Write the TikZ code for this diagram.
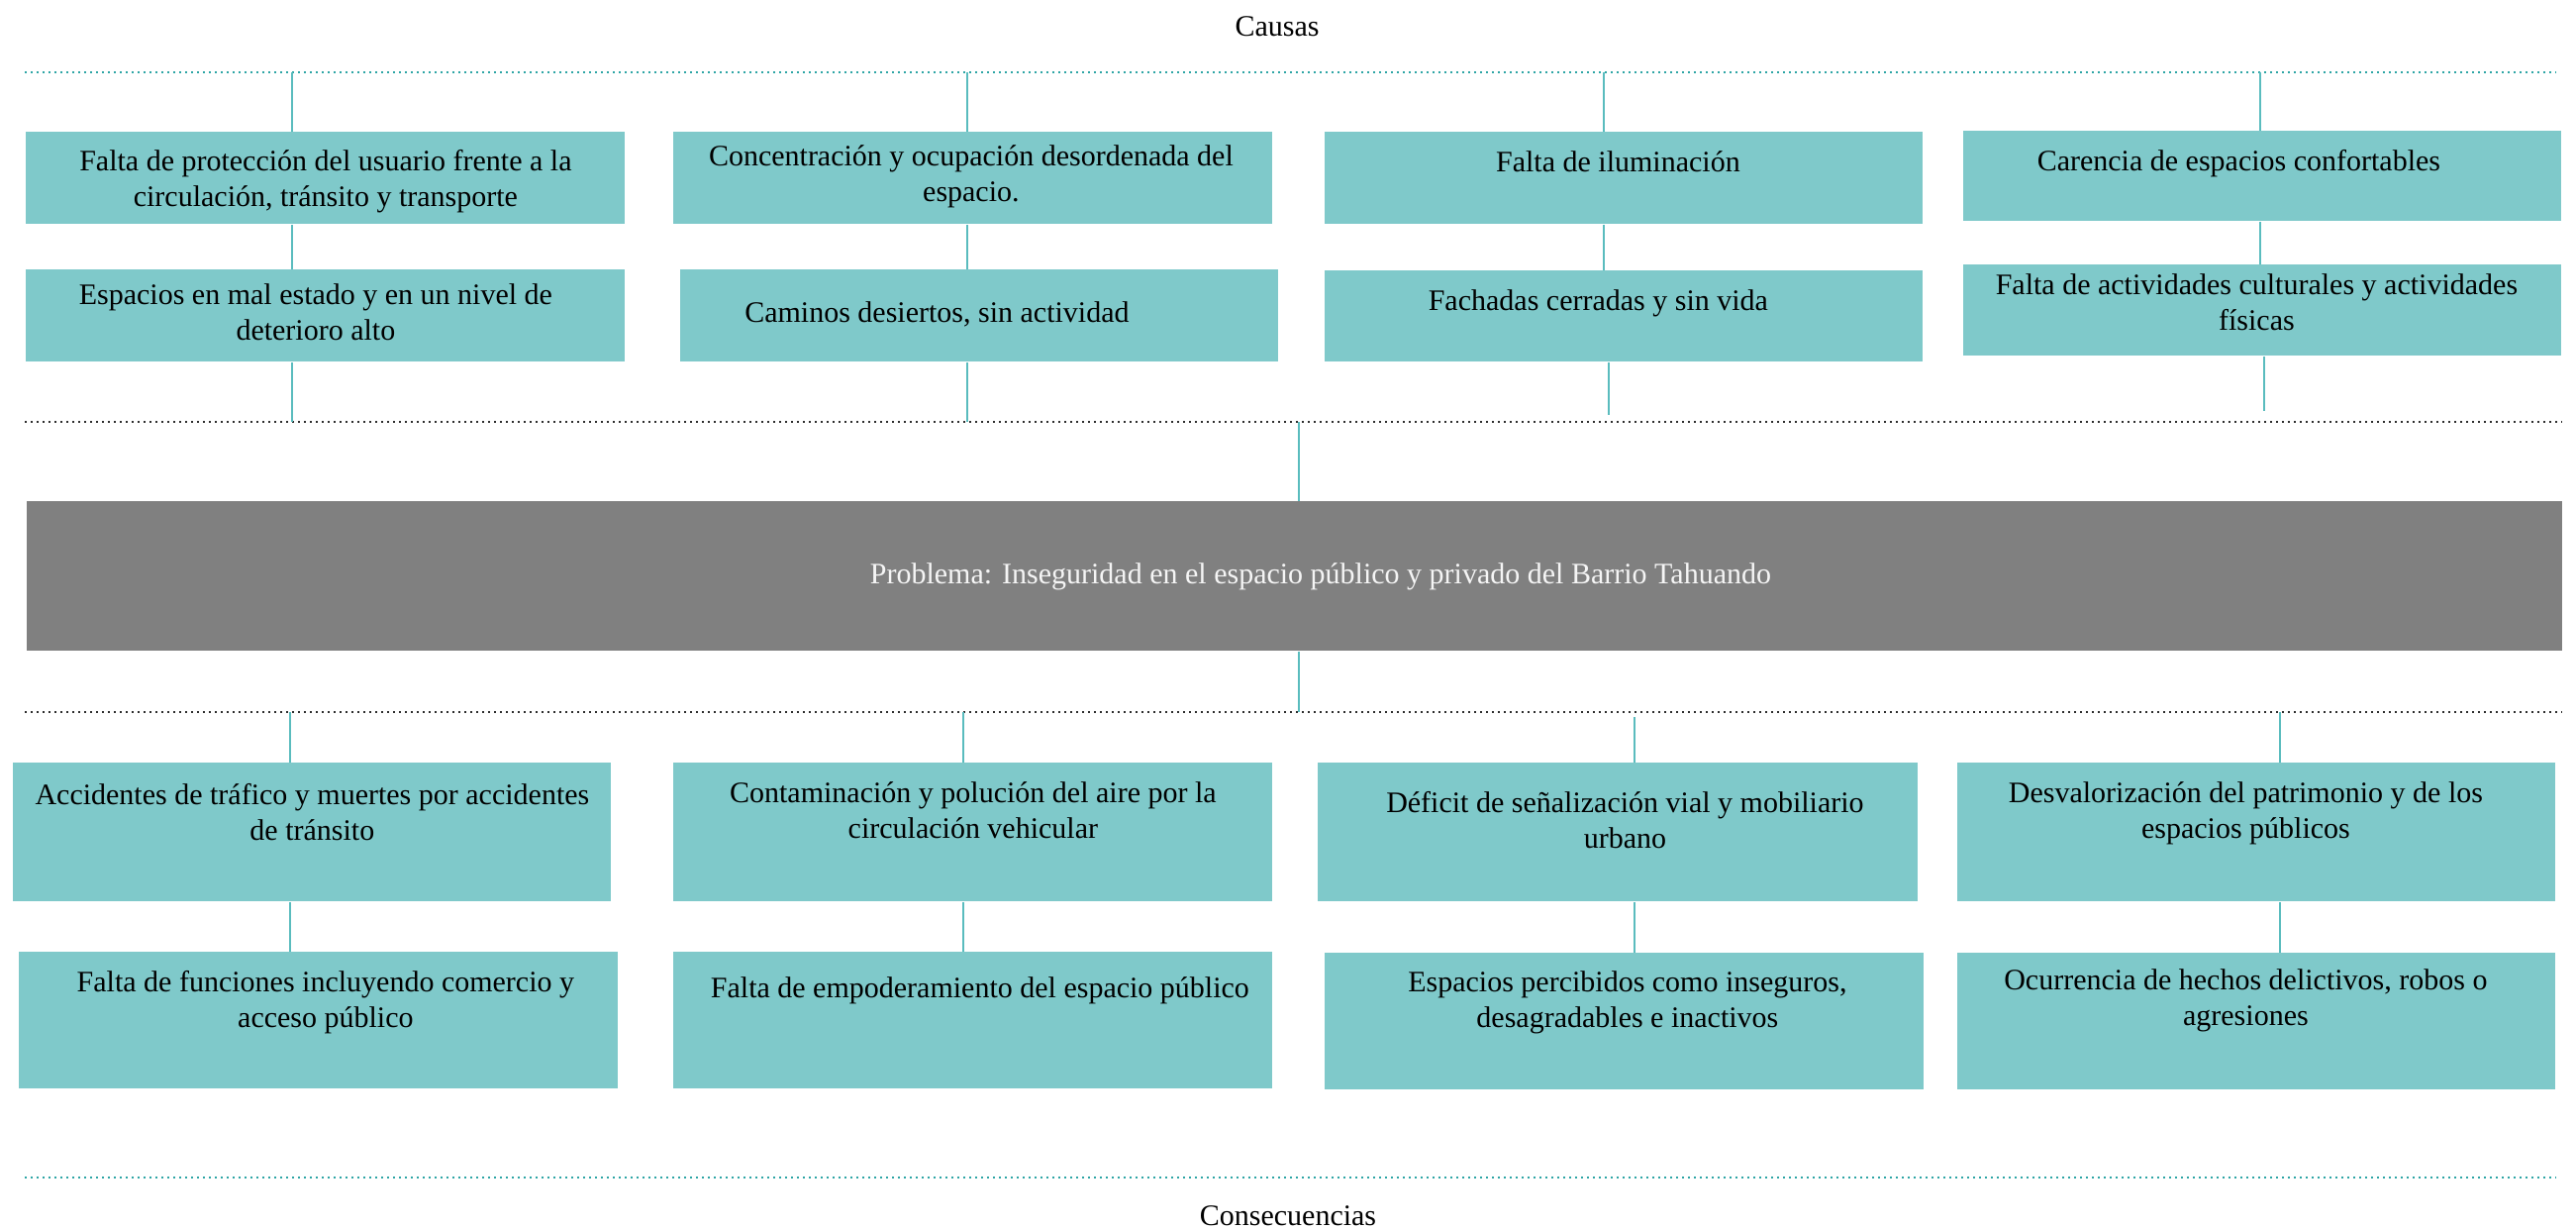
\documentclass[tikz,border=0pt]{standalone}
\usepackage{fontspec}
\setmainfont{Liberation Serif}
\usetikzlibrary{calc}
\definecolor{boxteal}{RGB}{127,201,202}
\definecolor{lineteal}{RGB}{90,188,190}
\definecolor{dotteal}{RGB}{45,165,165}
\definecolor{probgray}{RGB}{128,128,128}
\definecolor{dotblack}{RGB}{45,45,45}
\definecolor{probtext}{RGB}{245,245,245}
\newcommand\bxfont{\fontsize{15}{18}\selectfont}
\begin{document}
\begin{tikzpicture}[x=0.5pt,y=-0.5pt,
  cb/.style={fill=boxteal, draw=none, inner sep=0pt, anchor=north west},
  tx/.style={font=\bxfont, align=center, inner sep=0pt, anchor=north, yshift=12.6pt, text=black},
  conn/.style={draw=lineteal, line width=1pt},
  tdot/.style={draw=dotteal, line width=1.3pt, dash pattern=on 1.2pt off 1.8pt},
  kdot/.style={draw=dotblack, line width=1.3pt, dash pattern=on 1.2pt off 1.8pt},
  captxt/.style={font=\bxfont, inner sep=0pt, anchor=center}]
\useasboundingbox (0,0) rectangle (2602,1242);

% horizontal lines
\coordinate (tlL) at (25,73);   \coordinate (tlR) at (2582,73);
\coordinate (k1L) at (25,426);  \coordinate (k1R) at (2588,426);
\coordinate (k2L) at (25,719);  \coordinate (k2R) at (2588,719);
\coordinate (blL) at (25,1189); \coordinate (blR) at (2582,1189);
\draw[tdot] (tlL) -- (tlR);
\draw[kdot] (k1L) -- (k1R);
\draw[kdot] (k2L) -- (k2R);
\draw[tdot] (blL) -- (blR);

% captions
\node[captxt] (causas) at (1290,27) {Causas};
\node[captxt] (consec) at (1301,1228) {Consecuencias};

% top boxes
\node[cb, minimum width=302.5pt, minimum height=46.5pt] (A1) at (26,133) {};
\node[cb, minimum width=302.5pt, minimum height=46.5pt] (B1) at (680,133) {};
\node[cb, minimum width=302pt, minimum height=46.5pt] (C1) at (1338,133) {};
\node[cb, minimum width=302pt, minimum height=45.5pt] (D1) at (1983,132) {};
\node[cb, minimum width=302.5pt, minimum height=46.5pt] (A2) at (26,272) {};
\node[cb, minimum width=302pt, minimum height=46.5pt] (B2) at (687,272) {};
\node[cb, minimum width=302pt, minimum height=46pt] (C2) at (1338,273) {};
\node[cb, minimum width=302pt, minimum height=46pt] (D2) at (1983,267) {};

% problem
\node[cb, fill=probgray, minimum width=1280.5pt, minimum height=75.5pt] (P) at (27,506) {};

% bottom boxes
\node[cb, minimum width=302pt, minimum height=70pt] (E1) at (13,770) {};
\node[cb, minimum width=302.5pt, minimum height=70pt] (F1) at (680,770) {};
\node[cb, minimum width=303pt, minimum height=70pt] (G1) at (1331,770) {};
\node[cb, minimum width=302pt, minimum height=70pt] (H1) at (1977,770) {};
\node[cb, minimum width=302.5pt, minimum height=69pt] (E2) at (19,961) {};
\node[cb, minimum width=302.5pt, minimum height=69pt] (F2) at (680,961) {};
\node[cb, minimum width=302.5pt, minimum height=69pt] (G2) at (1338,962) {};
\node[cb, minimum width=302pt, minimum height=69pt] (H2) at (1977,962) {};

% texts
\node[tx] (A1t) at ($(A1.north)+(0,39)$) {\strut Falta de protección del usuario frente a la\\circulación, tránsito y transporte};
\node[tx] (A2t) at ($(A2.north)+(-10,35)$) {\strut Espacios en mal estado y en un nivel de\\deterioro alto};
\node[tx] (B1t) at ($(B1.north)+(-2,34)$) {\strut Concentración y ocupación desordenada del\\espacio.};
\node[tx] (B2t) at ($(B2.north)+(-43,53)$) {\strut Caminos desiertos, sin actividad};
\node[tx] (C1t) at ($(C1.north)+(-6,40)$) {\strut Falta de iluminación};
\node[tx] (C2t) at ($(C2.north)+(-26,40)$) {\strut Fachadas cerradas y sin vida};
\node[tx] (D1t) at ($(D1.north)+(-24,40)$) {\strut Carencia de espacios confortables};
\node[tx] (D2t) at ($(D2.north)+(-6,30)$) {\strut Falta de actividades culturales y actividades\\físicas};

\node[font=\bxfont, text=probtext, inner sep=0pt] (Pt) at ($(P.center)+(26,0)$) {Problema: Inseguridad en el espacio público y privado del Barrio Tahuando};

\node[tx] (E1t) at ($(E1.north)+(0,42)$) {\strut Accidentes de tráfico y muertes por accidentes\\de tránsito};
\node[tx] (F1t) at ($(F1.north)+(0,40)$) {\strut Contaminación y polución del aire por la\\circulación vehicular};
\node[tx] (G1t) at ($(G1.north)+(7,50)$) {\strut Déficit de señalización vial y mobiliario\\urbano};
\node[tx] (H1t) at ($(H1.north)+(-11,40)$) {\strut Desvalorización del patrimonio y de los\\espacios públicos};
\node[tx] (E2t) at ($(E2.north)+(7,40)$) {\strut Falta de funciones incluyendo comercio y\\acceso público};
\node[tx] (F2t) at ($(F2.north)+(7,46)$) {\strut Falta de empoderamiento del espacio público};
\node[tx] (G2t) at ($(G2.north)+(3,39)$) {\strut Espacios percibidos como inseguros,\\desagradables e inactivos};
\node[tx] (H2t) at ($(H2.north)+(-11,37)$) {\strut Ocurrencia de hechos delictivos, robos o\\agresiones};

% connector columns
\coordinate (xa) at (295,0);
\coordinate (xb) at (977,0);
\coordinate (xc) at (1620,0);
\coordinate (xcc) at (1625,0);
\coordinate (xd) at (2283,0);
\coordinate (xdd) at (2287,0);
\coordinate (xm) at (1312,0);
\coordinate (xe) at (293,0);
\coordinate (xf) at (973,0);
\coordinate (xg) at (1651,0);
\coordinate (xh) at (2303,0);

% top connectors
\draw[conn] (xa |- tlL) -- (xa |- A1.north);
\draw[conn] (xa |- A1.south) -- (xa |- A2.north);
\draw[conn] (xa |- A2.south) -- (xa |- k1L);
\draw[conn] (xb |- tlL) -- (xb |- B1.north);
\draw[conn] (xb |- B1.south) -- (xb |- B2.north);
\draw[conn] (xb |- B2.south) -- (xb |- k1L);
\draw[conn] (xc |- tlL) -- (xc |- C1.north);
\draw[conn] (xc |- C1.south) -- (xc |- C2.north);
\draw[conn] (xcc |- C2.south) -- ++(0,53);
\draw[conn] (xd |- tlL) -- (xd |- D1.north);
\draw[conn] (xd |- D1.south) -- (xd |- D2.north);
\draw[conn] (xdd |- D2.south) -- ++(0,55);

% center connectors
\draw[conn] (xm |- k1L) -- (xm |- P.north);
\draw[conn] (xm |- P.south) -- (xm |- k2L);

% bottom connectors
\draw[conn] (xe |- k2L) -- (xe |- E1.north);
\draw[conn] (xe |- E1.south) -- (xe |- E2.north);
\draw[conn] (xf |- k2L) -- (xf |- F1.north);
\draw[conn] (xf |- F1.south) -- (xf |- F2.north);
\draw[conn] ([yshift=-2.5pt]xg |- k2L) -- (xg |- G1.north);
\draw[conn] (xg |- G1.south) -- (xg |- G2.north);
\draw[conn] (xh |- k2L) -- (xh |- H1.north);
\draw[conn] (xh |- H1.south) -- (xh |- H2.north);
\end{tikzpicture}
\end{document}
